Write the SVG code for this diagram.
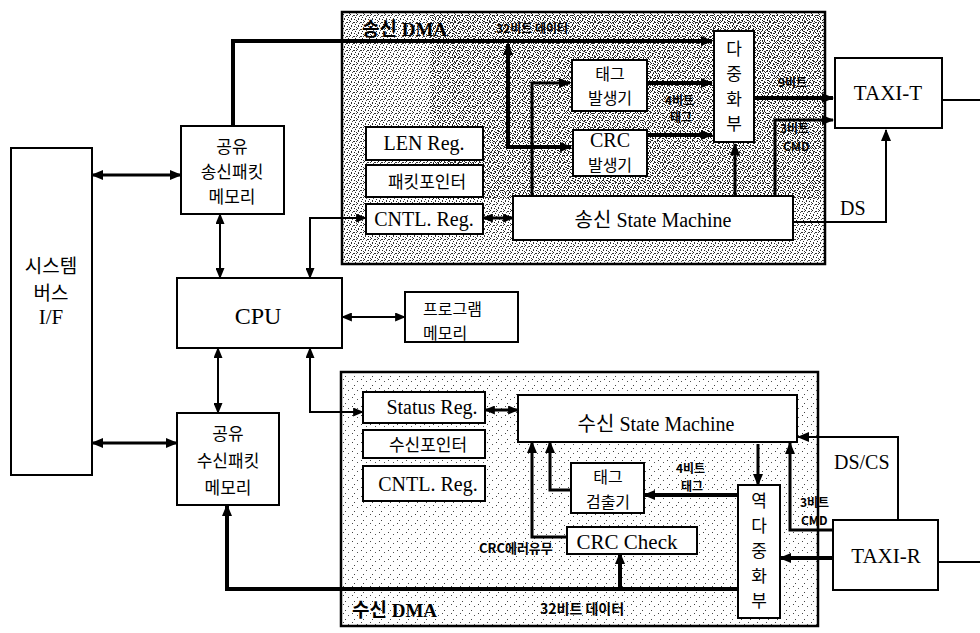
<svg xmlns="http://www.w3.org/2000/svg" width="980" height="633" viewBox="0 0 980 633">
<defs>
<style>
.box{fill:#fff;stroke:#000;stroke-width:2}
.dma{stroke:#000;stroke-width:2.5}
.ln{fill:none;stroke:#000;stroke-width:2}
.tk{stroke-width:4}
.md{stroke-width:3}
.kr{font-family:"Noto Sans CJK KR",sans-serif;font-size:17px;fill:#000}
.k2{font-family:"Noto Sans CJK KR",sans-serif;font-size:16px;fill:#000}
.la{font-family:"Liberation Serif","Noto Sans CJK KR",serif;font-size:20px;fill:#000}
.sm{font-family:"Noto Sans CJK KR",sans-serif;font-size:12px;font-weight:bold;fill:#000}
.tt{font-family:"Liberation Serif","Noto Sans CJK KR",serif;font-size:19px;font-weight:bold;fill:#000}
</style>
<pattern id="nzA" width="7" height="7" patternUnits="userSpaceOnUse">
<rect width="7" height="7" fill="#fff"/>
<rect x="0" y="0" width="1" height="1" fill="#222"/>
<rect x="3" y="1" width="2" height="1" fill="#333"/>
<rect x="5" y="3" width="1" height="1" fill="#222"/>
<rect x="1" y="4" width="1" height="2" fill="#333"/>
<rect x="4" y="5" width="1" height="1" fill="#222"/>
<rect x="6" y="6" width="1" height="1" fill="#444"/>
<rect x="2" y="2" width="1" height="1" fill="#555"/>
<rect x="6" y="1" width="1" height="1" fill="#444"/>
</pattern>
<pattern id="nzB" width="9" height="9" patternUnits="userSpaceOnUse">
<rect width="9" height="9" fill="#fff"/>
<rect x="1" y="1" width="1" height="1" fill="#444"/>
<rect x="6" y="3" width="1" height="1" fill="#555"/>
<rect x="3" y="7" width="1" height="1" fill="#444"/>
</pattern>
<pattern id="nzC" width="5" height="5" patternUnits="userSpaceOnUse">
<rect x="2" y="0" width="1" height="1" fill="#111"/>
<rect x="0" y="2" width="1" height="1" fill="#222"/>
<rect x="3" y="3" width="1" height="1" fill="#111"/>
<rect x="4" y="1" width="1" height="1" fill="#333"/>
</pattern>
<marker id="a" viewBox="0 0 12 10" refX="11" refY="5" markerWidth="13" markerHeight="10" markerUnits="userSpaceOnUse" orient="auto-start-reverse">
<path d="M0,0 L12,5 L0,10 z" fill="#000"/>
</marker>
<marker id="s" viewBox="0 0 12 10" refX="11" refY="5" markerWidth="11" markerHeight="9" markerUnits="userSpaceOnUse" orient="auto-start-reverse">
<path d="M0,0 L12,5 L0,10 z" fill="#000"/>
</marker>
</defs>
<rect width="980" height="633" fill="#fff"/>

<g id="dma-tx">
<rect class="dma" x="342" y="12" width="483" height="252" fill="url(#nzA)"/>
<rect x="430" y="14" width="393" height="185" fill="url(#nzC)"/>
<text class="tt" x="362" y="36">송신 DMA</text>
<text class="sm" x="496" y="33">32비트 데이터</text>
</g>
<g id="dma-rx">
<rect class="dma" x="341" y="372" width="477" height="254" fill="url(#nzB)"/>
<text class="tt" x="352" y="617">수신 DMA</text>
<text class="sm" x="540" y="614" style="font-size:14px">32비트 데이터</text>
</g>

<g id="connectors">
<path class="ln tk" d="M233,125 V41 H712" marker-end="url(#a)"/>
<path class="ln tk" d="M571,147 H508 V44" marker-start="url(#a)" marker-end="url(#a)"/>
<path class="ln md" d="M532,195 V83 H570" marker-end="url(#a)"/>
<path class="ln tk" d="M647,83 H712" marker-end="url(#a)"/>
<path class="ln tk" d="M647,135 H712" marker-end="url(#a)"/>
<path class="ln md" d="M735,196 V144" marker-end="url(#a)"/>
<path class="ln tk" d="M754,98 H833" marker-end="url(#a)"/>
<path class="ln md" d="M775,196 V120 H833" marker-end="url(#a)"/>
<path class="ln" d="M793,222 H886 V130" marker-end="url(#a)"/>
<path class="ln" d="M942,100 H980"/>
<path class="ln md" d="M92,175 H181" marker-start="url(#a)" marker-end="url(#a)"/>
<path class="ln md" d="M92,443 H177" marker-start="url(#a)" marker-end="url(#a)"/>
<path class="ln" d="M220,214 V278" marker-start="url(#s)" marker-end="url(#s)"/>
<path class="ln" d="M218,348 V413" marker-start="url(#s)" marker-end="url(#s)"/>
<path class="ln" d="M310,278 V218 H366" marker-start="url(#s)" marker-end="url(#s)"/>
<path class="ln" d="M310,348 V412 H363" marker-start="url(#s)" marker-end="url(#s)"/>
<path class="ln" d="M342,317 H405" marker-start="url(#s)" marker-end="url(#s)"/>
<path class="ln md" d="M483,218 H513" marker-start="url(#s)" marker-end="url(#s)"/>
<path class="ln md" d="M485,410 H518" marker-start="url(#s)" marker-end="url(#s)"/>
<path class="ln tk" d="M738,589 H227 V505" marker-end="url(#a)"/>
<path class="ln tk" d="M620,588 V553" marker-end="url(#a)"/>
<path class="ln tk" d="M738,495 H644" marker-end="url(#a)"/>
<path class="ln md" d="M571,490 H550 V442" marker-end="url(#a)"/>
<path class="ln md" d="M567,537 H532 V442" marker-end="url(#a)"/>
<path class="ln md" d="M758,444 V485" marker-end="url(#a)"/>
<path class="ln md" d="M833,530 H790 V443" marker-end="url(#a)"/>
<path class="ln" d="M898,520 V437 H798" marker-end="url(#a)"/>
<path class="ln tk" d="M833,558 H780" marker-end="url(#a)"/>
<path class="ln" d="M938,562 H980"/>
<text class="sm" x="665" y="105">4비트</text>
<text class="sm" x="670" y="122">태그</text>
<text class="sm" x="778" y="87">9비트</text>
<text class="sm" x="780" y="133">3비트</text>
<text class="sm" x="783" y="151">CMD</text>
<text class="la" x="840" y="215">DS</text>
<text class="sm" x="676" y="473">4비트</text>
<text class="sm" x="681" y="491">태그</text>
<text class="sm" x="800" y="507">3비트</text>
<text class="sm" x="801" y="525">CMD</text>
<text class="la" x="834" y="469">DS/CS</text>
<text class="sm" x="479" y="553" style="font-size:13px">CRC에러유무</text>
</g>

<g id="sysbus">
<rect class="box" x="11" y="148" width="81" height="327"/>
<text class="kr" x="51" y="273" text-anchor="middle" style="font-size:19px">시스템</text>
<text class="kr" x="51" y="300" text-anchor="middle" style="font-size:19px">버스</text>
<text class="la" x="51" y="324" text-anchor="middle" style="font-size:21px">I/F</text>
</g>
<g id="txmem">
<rect class="box" x="181" y="126" width="103" height="88"/>
<text class="kr" x="232" y="153" text-anchor="middle">공유</text>
<text class="kr" x="232" y="178" text-anchor="middle">송신패킷</text>
<text class="kr" x="232" y="203" text-anchor="middle">메모리</text>
</g>
<g id="cpu">
<rect class="box" x="177" y="278" width="165" height="70"/>
<text class="la" x="258" y="324" text-anchor="middle" style="font-size:24px">CPU</text>
</g>
<g id="progmem">
<rect class="box" x="405" y="292" width="113" height="50"/>
<text class="k2" x="423" y="315">프로그램</text>
<text class="k2" x="423" y="339">메모리</text>
</g>
<g id="rxmem">
<rect class="box" x="177" y="413" width="102" height="92"/>
<text class="kr" x="228" y="440" text-anchor="middle">공유</text>
<text class="kr" x="228" y="467" text-anchor="middle">수신패킷</text>
<text class="kr" x="228" y="494" text-anchor="middle">메모리</text>
</g>
<g id="lenreg">
<rect class="box" x="366" y="127" width="117" height="33"/>
<text class="la" x="424" y="150" text-anchor="middle">LEN Reg.</text>
</g>
<g id="pktptr">
<rect class="box" x="366" y="165" width="117" height="32"/>
<text class="kr" x="427" y="188" text-anchor="middle">패킷포인터</text>
</g>
<g id="cntlreg-tx">
<rect class="box" x="366" y="204" width="117" height="30"/>
<text class="la" x="424" y="226" text-anchor="middle">CNTL. Reg.</text>
</g>
<g id="tx-sm">
<rect class="box" x="513" y="196" width="280" height="44"/>
<text class="la" x="653" y="227" text-anchor="middle">송신 State Machine</text>
</g>
<g id="taggen">
<rect class="box" x="572" y="60" width="75" height="51"/>
<text class="k2" x="610" y="80" text-anchor="middle">태그</text>
<text class="k2" x="610" y="104" text-anchor="middle">발생기</text>
</g>
<g id="crcgen">
<rect class="box" x="573" y="130" width="74" height="46"/>
<text class="la" x="610" y="147" text-anchor="middle">CRC</text>
<text class="k2" x="610" y="171" text-anchor="middle">발생기</text>
</g>
<g id="mux">
<rect class="box" x="714" y="31" width="40" height="111"/>
<text class="kr" x="734" y="55" text-anchor="middle">다</text>
<text class="kr" x="734" y="80" text-anchor="middle">중</text>
<text class="kr" x="734" y="105" text-anchor="middle">화</text>
<text class="kr" x="734" y="130" text-anchor="middle">부</text>
</g>
<g id="taxi-t">
<rect class="box" x="835" y="58" width="107" height="70"/>
<text class="la" x="888" y="100" text-anchor="middle" style="font-size:21px">TAXI-T</text>
</g>
<g id="statusreg">
<rect class="box" x="363" y="392" width="122" height="31"/>
<text class="la" x="432" y="414" text-anchor="middle">Status Reg.</text>
</g>
<g id="rxptr">
<rect class="box" x="363" y="430" width="122" height="28"/>
<text class="kr" x="428" y="451" text-anchor="middle">수신포인터</text>
</g>
<g id="cntlreg-rx">
<rect class="box" x="363" y="466" width="122" height="35"/>
<text class="la" x="428" y="491" text-anchor="middle">CNTL. Reg.</text>
</g>
<g id="rx-sm">
<rect class="box" x="518" y="395" width="279" height="47"/>
<text class="la" x="656" y="431" text-anchor="middle">수신 State Machine</text>
</g>
<g id="tagdet">
<rect class="box" x="571" y="463" width="73" height="50"/>
<text class="k2" x="608" y="483" text-anchor="middle">태그</text>
<text class="k2" x="608" y="508" text-anchor="middle">검출기</text>
</g>
<g id="crccheck">
<rect class="box" x="567" y="527" width="130" height="27"/>
<text class="la" x="627" y="549" text-anchor="middle" style="font-size:21px">CRC Check</text>
</g>
<g id="demux">
<rect class="box" x="738" y="485" width="42" height="133"/>
<text class="kr" x="759" y="507" text-anchor="middle">역</text>
<text class="kr" x="759" y="532" text-anchor="middle">다</text>
<text class="kr" x="759" y="557" text-anchor="middle">중</text>
<text class="kr" x="759" y="582" text-anchor="middle">화</text>
<text class="kr" x="759" y="607" text-anchor="middle">부</text>
</g>
<g id="taxi-r">
<rect class="box" x="833" y="520" width="105" height="70"/>
<text class="la" x="886" y="563" text-anchor="middle" style="font-size:21px">TAXI-R</text>
</g>
</svg>
